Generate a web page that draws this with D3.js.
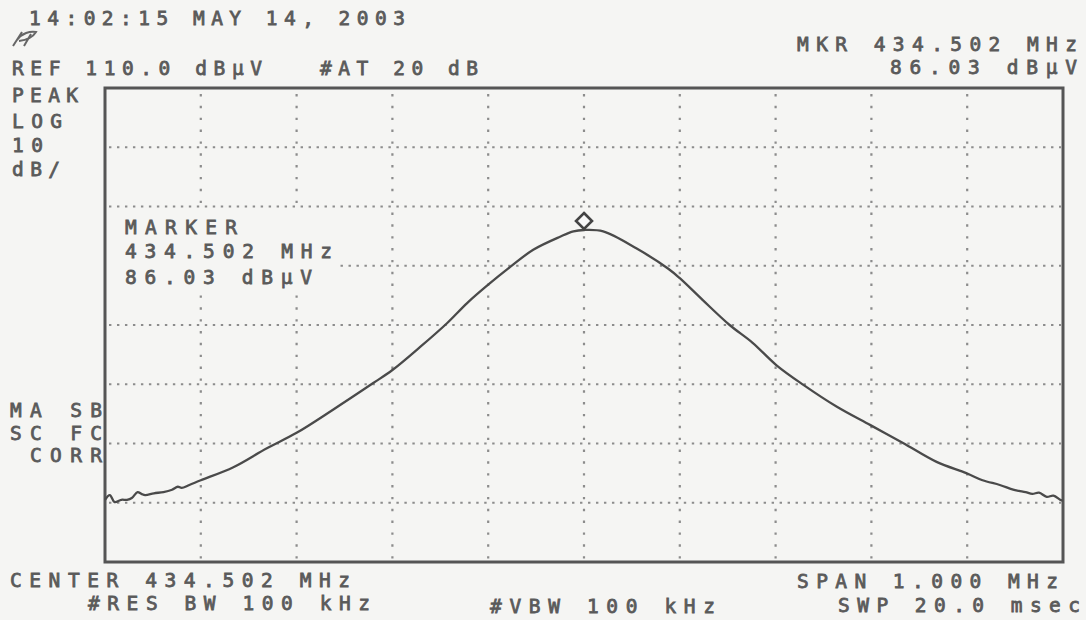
<!DOCTYPE html>
<html>
<head>
<meta charset="utf-8">
<script src="https://cdn.jsdelivr.net/npm/d3@7"></script>
<style>
  html, body { margin: 0; padding: 0; background: #f5f5f3; }
  svg { display: block; }
</style>
</head>
<body>
<svg id="chart" width="1086" height="620"></svg>
<script>
// ---------- data ----------
const centerMHz = 434.502;
const spanKHz = 1000;
const refLevel = 110;      // dBµV at top
const dbPerDiv = 10;
const yDivisions = 8;
const xDivisions = 10;

// frequency offset from center (kHz)
const offsetKHz = [
  -500, -495, -490, -483, -477, -472, -466, -462, -458, -449, -439, -430, -424, -420, -412,
  -400, -366, -331, -300, -262, -220, -200, -171, -143, -122, -100, -77, -53, -25, -11,
  0, 20, 55, 88, 100, 124, 152, 176, 201, 229, 264, 299, 333, 368, 399,
  416, 434, 448, 454, 461, 468, 475, 483, 490, 497, 500
];
// trace level (dBµV)
const levelDb = [
  40.5, 41.3, 40.1, 40.5, 40.5, 40.8, 41.8, 41.5, 41.3, 41.6, 41.8, 42.2, 42.7, 42.5, 43.0,
  43.8, 46.0, 49.2, 51.8, 55.7, 60.2, 62.4, 66.3, 70.3, 73.7, 76.8, 79.8, 82.7, 84.9, 85.8,
  86.03, 85.8, 82.9, 79.5, 77.9, 74.2, 70.0, 67.0, 63.2, 59.9, 56.2, 53.1, 50.1, 46.9, 45.0,
  43.8, 43.0, 42.2, 42.0, 41.8, 41.5, 41.7, 41.0, 41.2, 40.5, 40.3
];
const markerOffsetKHz = 0;
const markerLevel = 86.03;

// annotation labels
const labels = [
  {t: "14:02:15 MAY 14, 2003", x: 29,  y: 25,  w: 376},
  {t: "REF 110.0 dBµV",        x: 12,  y: 75,  w: 250},
  {t: "#AT 20 dB",             x: 320, y: 75,  w: 158},
  {t: "MKR 434.502 MHz",       x: 797, y: 51,  w: 280},
  {t: "86.03 dBµV",            x: 890, y: 74,  w: 187},
  {t: "PEAK",                  x: 12,  y: 102, w: 66},
  {t: "LOG",                   x: 12,  y: 128, w: 50},
  {t: "10",                    x: 12,  y: 152, w: 31},
  {t: "dB/",                   x: 12,  y: 176, w: 48},
  {t: "MARKER",                x: 125, y: 234, w: 112},
  {t: "434.502 MHz",           x: 125, y: 258, w: 207},
  {t: "86.03 dBµV",            x: 125, y: 284, w: 187},
  {t: "MA SB",                 x: 10,  y: 417, w: 92},
  {t: "SC FC",                 x: 10,  y: 440, w: 92},
  {t: "CORR",                  x: 30,  y: 462, w: 72},
  {t: "CENTER 434.502 MHz",    x: 10,  y: 587, w: 340},
  {t: "#RES BW 100 kHz",       x: 88,  y: 610, w: 282},
  {t: "#VBW 100 kHz",          x: 490, y: 613, w: 225},
  {t: "SPAN 1.000 MHz",        x: 797, y: 588, w: 261},
  {t: "SWP 20.0 msec",         x: 838, y: 612, w: 242}
];

// ---------- layout ----------
const plot = {left: 105, top: 88, right: 1063, bottom: 562};
const ink = "#555";
const gridInk = "#8c8c8c";
const bg = "#f5f5f3";

const svg = d3.select("#chart");
svg.append("rect").attr("width", 1086).attr("height", 620).attr("fill", bg);

const x = d3.scaleLinear().domain([-spanKHz / 2, spanKHz / 2]).range([plot.left, plot.right]);
const y = d3.scaleLinear().domain([refLevel - dbPerDiv * yDivisions, refLevel]).range([plot.bottom, plot.top]);

// grid
const xGrid = d3.range(1, xDivisions).map(i => -spanKHz / 2 + i * spanKHz / xDivisions);
const yGrid = d3.range(1, yDivisions).map(i => refLevel - i * dbPerDiv);
const divW = (plot.right - plot.left) / xDivisions;
const divH = (plot.bottom - plot.top) / yDivisions;

const g = svg.append("g");
g.selectAll("line.h").data(yGrid).join("line")
  .attr("class", "h")
  .attr("x1", plot.left + 4).attr("x2", plot.right - 2)
  .attr("y1", d => y(d)).attr("y2", d => y(d))
  .attr("stroke", gridInk).attr("stroke-width", 2.2)
  .attr("stroke-dasharray", `2.4 ${divW / 12 - 2.4}`);
g.selectAll("line.v").data(xGrid).join("line")
  .attr("class", "v")
  .attr("y1", plot.top + 6).attr("y2", plot.bottom - 2)
  .attr("x1", d => x(d)).attr("x2", d => x(d))
  .attr("stroke", gridInk).attr("stroke-width", 2.2)
  .attr("stroke-dasharray", `2.4 ${divH / 5 - 2.4}`);

// blank area behind the marker readout
g.append("rect")
  .attr("x", plot.left + 2).attr("y", 212)
  .attr("width", 228).attr("height", 81)
  .attr("fill", bg);

// frame
svg.append("rect")
  .attr("x", plot.left).attr("y", plot.top)
  .attr("width", plot.right - plot.left).attr("height", plot.bottom - plot.top)
  .attr("fill", "none").attr("stroke", ink).attr("stroke-width", 3);

// trace
const data = offsetKHz.map((f, i) => ({f, v: levelDb[i]}));
const line = d3.line().x(d => x(d.f)).y(d => y(d.v)).curve(d3.curveCatmullRom.alpha(0.5));
svg.append("path").datum(data)
  .attr("d", line)
  .attr("fill", "none").attr("stroke", "#4a4a4a").attr("stroke-width", 2.3)
  .attr("stroke-linejoin", "round");

// marker diamond
const mx = x(markerOffsetKHz), my = y(markerLevel) - 9;
const s = 8;
svg.append("path")
  .attr("d", `M${mx},${my - s}L${mx + s},${my}L${mx},${my + s}L${mx - s},${my}Z`)
  .attr("fill", "#f8f8f8").attr("stroke", "#444").attr("stroke-width", 2.6);

// HP logo (small slanted emblem)
svg.append("path")
  .attr("d", "M13,46 L22,32 M17,40 C22,33 30,31 36,32 C33,37 27,40 19,41 M24,46 L31,34")
  .attr("fill", "none").attr("stroke", "#666").attr("stroke-width", 2);

// labels
svg.append("g").selectAll("text").data(labels).join("text")
  .attr("x", d => d.x).attr("y", d => d.y)
  .attr("textLength", d => d.w)
  .attr("lengthAdjust", "spacing")
  .attr("font-family", "'DejaVu Sans Mono', 'Liberation Mono', monospace")
  .attr("font-size", 19.5)
  .attr("fill", "#5a5a5a")
  .attr("stroke", "#5a5a5a").attr("stroke-width", 0.8)
  .text(d => d.t);
</script>
</body>
</html>
